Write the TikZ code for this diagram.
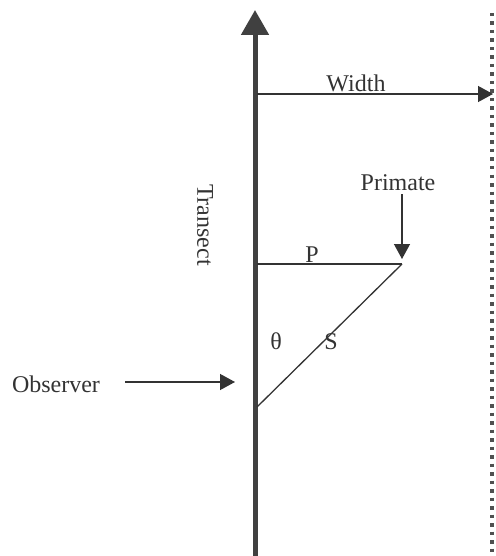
\documentclass[tikz,border=0pt]{standalone}
\usepackage{fontspec}
\setmainfont{Liberation Serif}
\usetikzlibrary{arrows.meta}
\definecolor{ink}{HTML}{333333}
\definecolor{axis}{HTML}{404040}
\definecolor{dots}{HTML}{505050}
\tikzset{
  lbl/.style={text=ink, font=\fontsize{24}{28}\selectfont, inner sep=0pt, anchor=base},
  thinline/.style={draw=ink, line width=1.3pt},
  thinarrow/.style={thinline, -{Triangle[length=15pt, width=16pt]}},
  transect/.style={draw=axis, line width=5pt, -{Triangle[length=25pt, width=27pt]}},
  dotline/.style={draw=dots, line width=3.5pt, dash pattern=on 3.5pt off 5pt}
}
\begin{document}
\begin{tikzpicture}[x=1pt, y=-1pt]
\useasboundingbox (0,0) rectangle (495,556);
% coordinates
\coordinate (tbot) at (255,556);
\coordinate (ttop) at (255,10);
\coordinate (wstart) at (257,94);
\coordinate (wend) at (493,94);
\coordinate (dtop) at (492,13);
\coordinate (dbot) at (492,556);
\coordinate (pleft) at (257,264);
\coordinate (prim) at (402,264);
\coordinate (parrtop) at (402,194);
\coordinate (parrtip) at (402,259);
\coordinate (sbot) at (257,407);
\coordinate (oarrstart) at (125,382);
\coordinate (oarrtip) at (235,382);
% lines
\draw[dotline] (dtop) -- (dbot);
\draw[transect] (tbot) -- (ttop);
\draw[thinarrow] (wstart) -- (wend);
\draw[thinline] (pleft) -- (prim);
\draw[thinline] (prim) -- (sbot);
\draw[thinarrow] (parrtop) -- (parrtip);
\draw[thinarrow] (oarrstart) -- (oarrtip);
% labels
\node[lbl] (width) at (356,92) {Width};
\node[lbl] (primate) at (398,190) {Primate};
\node[lbl] (p) at (312,262) {P};
\node[lbl] (theta) at (276,349) {θ};
\node[lbl] (s) at (331,349) {S};
\node[lbl] (observer) at (56,392) {Observer};
\node[text=ink, font=\fontsize{24}{28}\selectfont, inner sep=0pt, rotate=-90] (transect) at (205,225) {Transect};
\end{tikzpicture}
\end{document}
